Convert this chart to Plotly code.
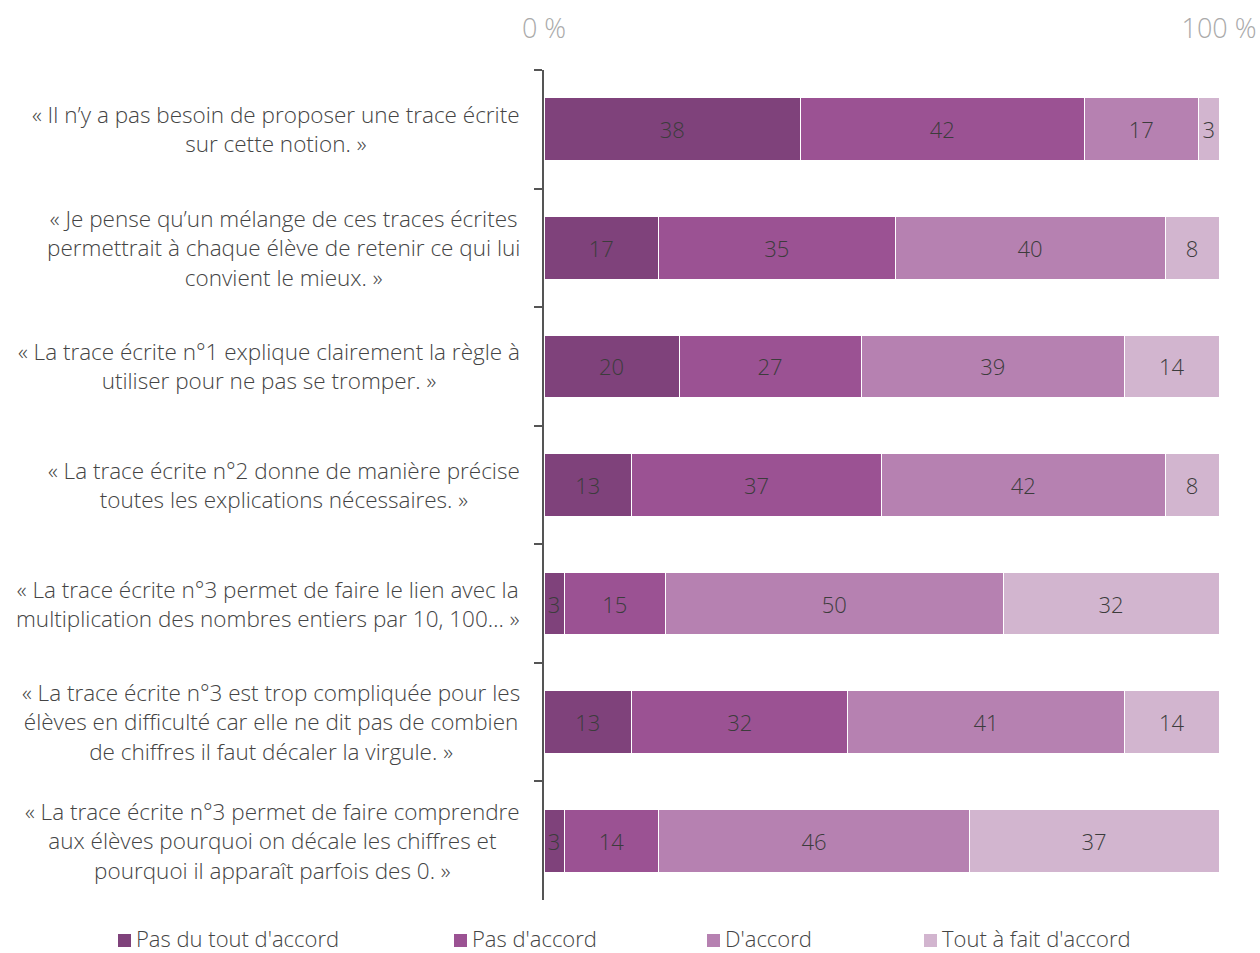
import plotly.graph_objects as go

categories = [
    "« Il n’y a pas besoin de proposer une trace écrite<br>sur cette notion. »",
    "« Je pense qu’un mélange de ces traces écrites<br>permettrait à chaque élève de retenir ce qui lui<br>convient le mieux. »",
    "« La trace écrite n°1 explique clairement la règle à<br>utiliser pour ne pas se tromper. »",
    "« La trace écrite n°2 donne de manière précise<br>toutes les explications nécessaires. »",
    "« La trace écrite n°3 permet de faire le lien avec la<br>multiplication des nombres entiers par 10, 100… »",
    "« La trace écrite n°3 est trop compliquée pour les<br>élèves en difficulté car elle ne dit pas de combien<br>de chiffres il faut décaler la virgule. »",
    "« La trace écrite n°3 permet de faire comprendre<br>aux élèves pourquoi on décale les chiffres et<br>pourquoi il apparaît parfois des 0. »",
]
series_names = ["Pas du tout d'accord", "Pas d'accord", "D'accord", "Tout à fait d'accord"]
pas_du_tout = [38, 17, 20, 13, 3, 13, 3]
pas_accord = [42, 35, 27, 37, 15, 32, 14]
accord = [17, 40, 39, 42, 50, 41, 46]
tout_a_fait = [3, 8, 14, 8, 32, 14, 37]
colors = ["#7f427b", "#9b5293", "#b681b1", "#d2b5cf"]
x_tickvals = [0, 100]
x_ticktext = ["0 %", "100 %"]

FONT = "Open Sans"
W, H = 1260, 953
# target plot box in page pixels
PX0, PX1, PY0, PY1 = 544, 1219, 70, 900
L, R, T, B = PX0, W - PX1, PY0, H - PY1
pw = PX1 - PX0
ph = PY1 - PY0


def px(xs):
    return (xs - PX0) / pw


def py(ys):
    return (PY1 - ys) / ph


fig = go.Figure()
for name, vals, col in zip(series_names, [pas_du_tout, pas_accord, accord, tout_a_fait], colors):
    fig.add_trace(go.Bar(
        y=categories, x=vals, name=name, orientation="h",
        marker=dict(color=col, line=dict(color="white", width=1)),
        text=vals, texttemplate="%{x}", textposition="inside",
        insidetextanchor="middle", constraintext="none",
        textfont=dict(family=FONT, size=22, color="#3c3c3c", weight=300),
        width=0.53, showlegend=False, hoverinfo="skip",
    ))

for c in categories:
    fig.add_annotation(
        x=px(522), xref="paper", y=c, yref="y",
        text=c, showarrow=False, xanchor="right", yanchor="middle", align="center",
        font=dict(family=FONT, size=22.5, color="#444444", weight=300),
    )

# manual legend
legend_x = [118, 454, 707, 924]
legend_y = 938
for name, col, lx in zip(series_names, colors, legend_x):
    fig.add_shape(
        type="rect", xref="paper", yref="paper",
        x0=px(lx), x1=px(lx + 13),
        y0=py(legend_y - 4), y1=py(legend_y + 9),
        fillcolor=col, line=dict(width=0),
    )
    fig.add_annotation(
        x=px(lx + 16), xref="paper", y=py(legend_y), yref="paper",
        text=name, showarrow=False, xanchor="left", yanchor="middle",
        font=dict(family=FONT, size=22, color="#444444", weight=300),
    )

fig.update_layout(
    barmode="stack",
    width=W, height=H,
    margin=dict(l=L, r=R, t=T, b=B, autoexpand=False),
    plot_bgcolor="white", paper_bgcolor="white",
    showlegend=False,
    xaxis=dict(
        side="top", range=[0, 100], tickvals=x_tickvals, ticktext=x_ticktext,
        showgrid=True, gridcolor="#e6e6e6", gridwidth=1, zeroline=False,
        showline=False, ticks="", ticklabelstandoff=26, automargin=False,
        tickfont=dict(family=FONT, size=27, color="#aaaaaa", weight=300),
    ),
    yaxis=dict(
        autorange="reversed", showticklabels=False, showgrid=False, zeroline=False,
        showline=True, linecolor="#555555", linewidth=1.5, automargin=False,
        ticks="outside", ticklen=8, tickcolor="#555555", tickwidth=1.5,
        tickson="boundaries",
    ),
)

fig.write_html(
    "out.html",
    config={"displayModeBar": False},
    post_script="document.body.style.margin='0';document.body.style.overflow='hidden';",
)
